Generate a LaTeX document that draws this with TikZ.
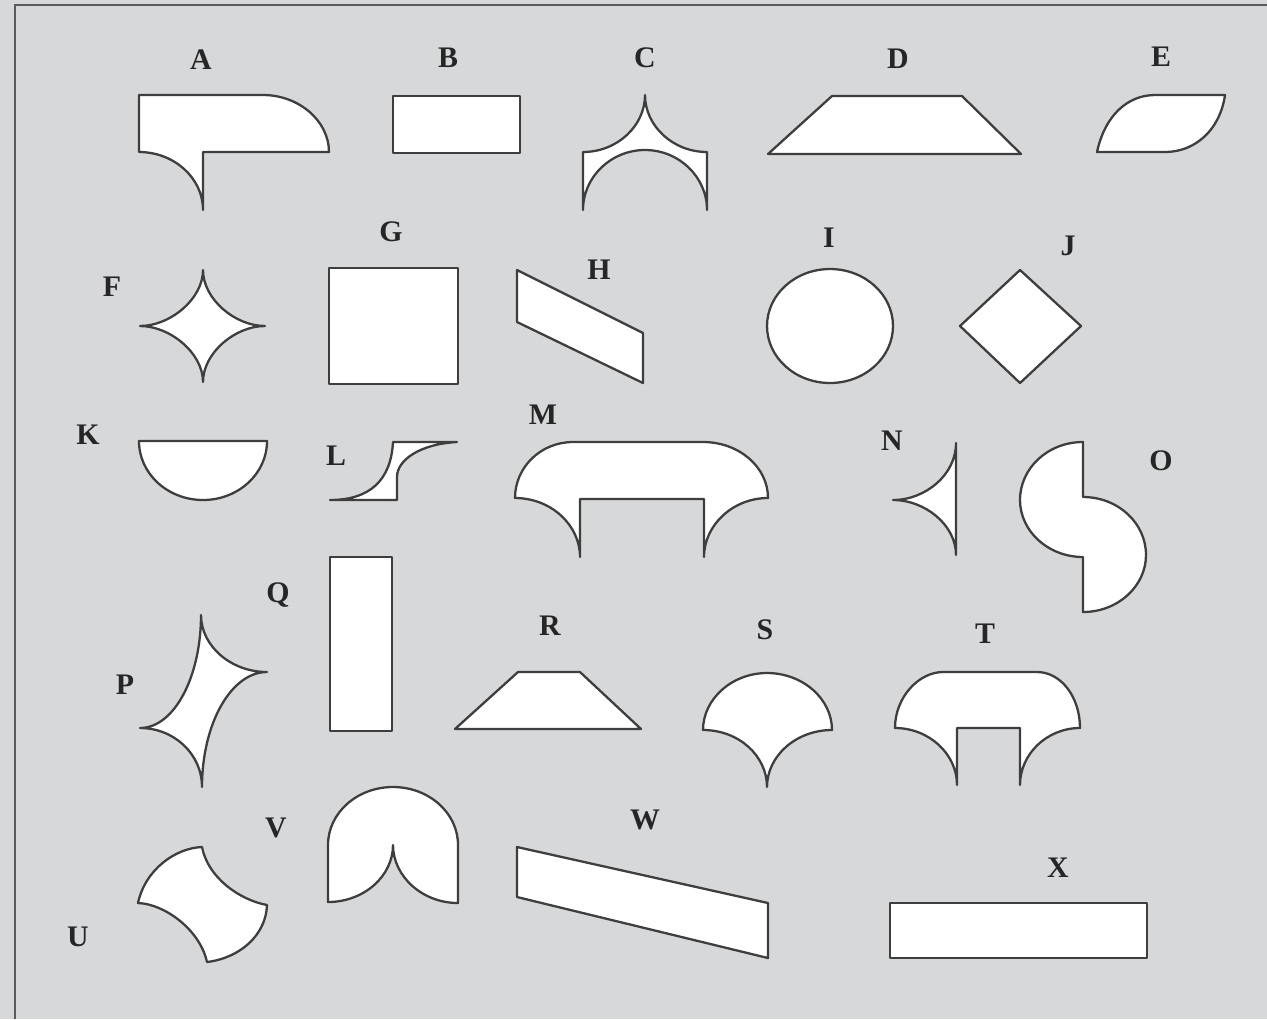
\documentclass[tikz,border=0pt]{standalone}
\usepackage{fontspec}
\setmainfont{Liberation Serif}
\usepackage{tikz}
\definecolor{panelgray}{RGB}{215,216,218}
\definecolor{edgegray}{RGB}{62,62,62}
\definecolor{framegray}{RGB}{90,90,90}

\begin{document}
\begin{tikzpicture}[
  x=0.02cm, y=-0.02cm,
  piece/.style={draw=edgegray, fill=white, line width=1.3pt, line join=round},
  lbl/.style={font=\fontsize{17}{20}\selectfont\bfseries, text=black!85, inner sep=0pt}
]
\useasboundingbox (0,0) rectangle (1267,1019);
\fill[panelgray] (0,0) rectangle (1267,1019);
\draw[framegray, line width=1.1pt] (15,1019) -- (15,5) -- (1267,5);

% top row
\draw[piece] (139,95) -- (263,95) .. controls (299,95) and (329,121) .. (329,152)
  -- (203,152) -- (203,210) .. controls (203,178) and (174,152) .. (139,152) -- cycle;
\draw[piece] (393,96) rectangle (520,153);
\draw[piece] (583,210) -- (583,152) .. controls (617,152) and (645,126) .. (645,95)
  .. controls (645,126) and (673,152) .. (707,152) -- (707,210)
  .. controls (707,177) and (679,150) .. (645,150) .. controls (611,150) and (583,177) .. (583,210) -- cycle;
\draw[piece] (768,154) -- (832,96) -- (962,96) -- (1021,154) -- cycle;
\draw[piece] (1097,152) .. controls (1105,115) and (1128,95) .. (1155,95) -- (1225,95)
  .. controls (1220,130) and (1195,152) .. (1165,152) -- cycle;

% second row
\draw[piece] (203,270) .. controls (203,299) and (235,326) .. (265,326)
  .. controls (235,326) and (203,353) .. (203,382)
  .. controls (203,353) and (170,326) .. (140,326)
  .. controls (170,326) and (203,299) .. (203,270) -- cycle;
\draw[piece] (329,268) rectangle (458,384);
\draw[piece] (517,270) -- (643,333) -- (643,383) -- (517,322) -- cycle;
\draw[piece] (830,326) ellipse [x radius=1.26cm, y radius=1.14cm];
\draw[piece] (1020,270) -- (1081,326) -- (1020,383) -- (960,326) -- cycle;

% third row
\draw[piece] (139,441) -- (267,441) .. controls (267,474) and (238,500) .. (203,500)
  .. controls (168,500) and (139,474) .. (139,441) -- cycle;
\draw[piece] (330,500) .. controls (370,500) and (391,480) .. (393,442) -- (457,442)
  .. controls (420,444) and (397,460) .. (397,477) -- (397,500) -- cycle;
\draw[piece] (573,442) -- (703,442) .. controls (739,442) and (768,467) .. (768,498)
  .. controls (733,498) and (704,525) .. (704,557) -- (704,499) -- (580,499) -- (580,557)
  .. controls (580,525) and (551,498) .. (515,498)
  .. controls (515,467) and (541,442) .. (573,442) -- cycle;
\draw[piece] (956,443) .. controls (956,475) and (925,500) .. (893,500)
  .. controls (925,500) and (956,525) .. (956,555) -- cycle;
\draw[piece] (1083,442) -- (1083,497) .. controls (1118,497) and (1146,523) .. (1146,555)
  .. controls (1146,586) and (1118,612) .. (1083,612) -- (1083,557)
  .. controls (1048,557) and (1020,531) .. (1020,500)
  .. controls (1020,468) and (1048,442) .. (1083,442) -- cycle;

% fourth row
\draw[piece] (201,615) .. controls (201,646) and (231,672) .. (267,672)
  .. controls (231,672) and (202,724) .. (202,787)
  .. controls (202,754) and (174,728) .. (140,728)
  .. controls (174,728) and (201,677) .. (201,615) -- cycle;
\draw[piece] (330,557) rectangle (392,731);
\draw[piece] (455,729) -- (518,672) -- (580,672) -- (641,729) -- cycle;
\draw[piece] (703,730) .. controls (703,699) and (732,673) .. (767,673)
  .. controls (803,673) and (832,699) .. (832,730)
  .. controls (796,730) and (767,756) .. (767,787)
  .. controls (767,756) and (739,730) .. (703,730) -- cycle;
\draw[piece] (943,672) -- (1037,672) .. controls (1061,672) and (1080,697) .. (1080,728)
  .. controls (1047,728) and (1020,754) .. (1020,785) -- (1020,728) -- (957,728) -- (957,785)
  .. controls (957,754) and (929,728) .. (895,728)
  .. controls (895,697) and (919,672) .. (943,672) -- cycle;

% bottom row
\draw[piece] (202,847) .. controls (175,848) and (145,870) .. (138,903)
  .. controls (165,904) and (200,930) .. (207,962)
  .. controls (240,958) and (266,935) .. (267,905)
  .. controls (240,900) and (208,878) .. (202,847) -- cycle;
\draw[piece] (328,902) -- (328,845) .. controls (328,813) and (357,787) .. (393,787)
  .. controls (429,787) and (458,813) .. (458,845) -- (458,903)
  .. controls (422,903) and (393,876) .. (393,845)
  .. controls (393,876) and (364,902) .. (328,902) -- cycle;
\draw[piece] (517,847) -- (768,903) -- (768,958) -- (517,897) -- cycle;
\draw[piece] (890,903) rectangle (1147,958);

% letters
\node[lbl] (labA) at (201,60) {A};
\node[lbl] (labB) at (448,58) {B};
\node[lbl] (labC) at (645,58) {C};
\node[lbl] (labD) at (898,59) {D};
\node[lbl] (labE) at (1161,57) {E};
\node[lbl] (labF) at (112,287) {F};
\node[lbl] (labG) at (391,232) {G};
\node[lbl] (labH) at (599,270) {H};
\node[lbl] (labI) at (829,238) {I};
\node[lbl] (labJ) at (1068,246) {J};
\node[lbl] (labK) at (88,435) {K};
\node[lbl] (labL) at (336,456) {L};
\node[lbl] (labM) at (543,415) {M};
\node[lbl] (labN) at (892,441) {N};
\node[lbl] (labO) at (1161,461) {O};
\node[lbl] (labP) at (125,685) {P};
\node[lbl] (labQ) at (278,595) {Q};
\node[lbl] (labR) at (550,626) {R};
\node[lbl] (labS) at (765,630) {S};
\node[lbl] (labT) at (985,634) {T};
\node[lbl] (labU) at (78,937) {U};
\node[lbl] (labV) at (276,828) {V};
\node[lbl] (labW) at (645,820) {W};
\node[lbl] (labX) at (1058,868) {X};
\end{tikzpicture}
\end{document}
